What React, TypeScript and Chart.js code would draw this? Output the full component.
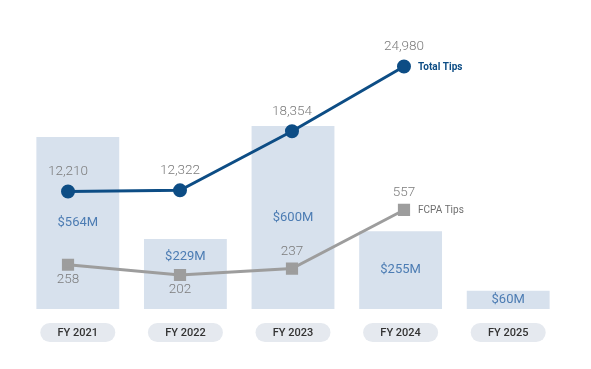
import React, { useEffect, useRef } from 'react';
import { Chart, registerables } from 'chart.js';

Chart.register(...registerables);

const categories = ['FY 2021', 'FY 2022', 'FY 2023', 'FY 2024', 'FY 2025'];
const awardsM = [564, 229, 600, 255, 60];
const totalTips: (number | null)[] = [12210, 12322, 18354, 24980, null];
const fcpaTips: (number | null)[] = [258, 202, 237, 557, null];
const seriesNames = ['Total Tips', 'FCPA Tips'];

// label placement styles
const barLabelAnchor = ['middle', 'upper', 'middle', 'middle', 'middle'];
const fcpaLabelSide = ['below', 'below', 'above', 'above'];

const BAR_COLOR = '#d7e1ed';
const BAR_TEXT = '#4c7cb3';
const TOTAL_COLOR = '#0d4d85';
const FCPA_COLOR = '#9d9d9d';
const NUM_COLOR = '#7c7c7c';

const fmt = (v: number) => v.toLocaleString('en-US');
const toPoints = (arr: (number | null)[]) =>
  arr.map((v, i) => ({ x: i, y: v })).filter((p) => p.y != null);

const labelsPlugin = {
  id: 'customLabels',
  afterDatasetsDraw(chart: any) {
    const ctx = chart.ctx as CanvasRenderingContext2D;
    ctx.save();
    ctx.textAlign = 'center';
    ctx.textBaseline = 'middle';

    // bar labels
    const barMeta = chart.getDatasetMeta(0);
    barMeta.data.forEach((bar: any, i: number) => {
      const p = bar.getProps(['x', 'y', 'base'], true);
      const cy = barLabelAnchor[i] === 'upper' ? p.y + 18 : (p.y + p.base) / 2;
      ctx.fillStyle = BAR_TEXT;
      ctx.font = '400 13px Roboto';
      ctx.fillText(`$${awardsM[i]}M`, p.x, cy);
    });

    // total tips labels
    const totMeta = chart.getDatasetMeta(1);
    let lastTot: any = null;
    totMeta.data.forEach((pt: any, i: number) => {
      const v = totalTips[i];
      if (v == null) return;
      ctx.fillStyle = NUM_COLOR;
      ctx.font = '300 13.5px Roboto';
      ctx.textAlign = 'center';
      ctx.fillText(fmt(v), pt.x, pt.y - 20);
      lastTot = pt;
    });
    if (lastTot) {
      ctx.textAlign = 'left';
      ctx.fillStyle = TOTAL_COLOR;
      ctx.font = '700 10px Roboto';
      ctx.fillText(seriesNames[0], lastTot.x + 14, lastTot.y + 1);
    }

    // fcpa labels
    const fMeta = chart.getDatasetMeta(2);
    let lastF: any = null;
    fMeta.data.forEach((pt: any, i: number) => {
      const v = fcpaTips[i];
      if (v == null) return;
      ctx.fillStyle = NUM_COLOR;
      ctx.font = '300 13.5px Roboto';
      ctx.textAlign = 'center';
      const dy = fcpaLabelSide[i] === 'below' ? 15 : -17;
      ctx.fillText(fmt(v), pt.x, pt.y + dy);
      lastF = pt;
    });
    if (lastF) {
      ctx.textAlign = 'left';
      ctx.fillStyle = '#6e6e6e';
      ctx.font = '400 10px Roboto';
      ctx.fillText(seriesNames[1], lastF.x + 14, lastF.y + 1);
    }

    // category pills
    const xs = chart.scales.x;
    const bottom = chart.chartArea.bottom;
    categories.forEach((c, i) => {
      const cx = xs.getPixelForValue(i);
      const w = 75;
      const h = 19;
      const y = bottom + 14;
      ctx.beginPath();
      (ctx as any).roundRect(cx - w / 2, y, w, h, h / 2);
      ctx.fillStyle = '#e5e9ef';
      ctx.fill();
      ctx.fillStyle = '#333333';
      ctx.font = '500 11px Roboto';
      ctx.textAlign = 'center';
      ctx.fillText(c, cx, y + h / 2 + 0.5);
    });
    ctx.restore();
  },
};

export default function App() {
  const ref = useRef<HTMLCanvasElement | null>(null);
  useEffect(() => {
    if (!ref.current) return;
    const chart = new Chart(ref.current, {
      type: 'line',
      data: {
        labels: categories,
        datasets: [
          {
            type: 'bar',
            label: 'Awards',
            data: awardsM,
            backgroundColor: BAR_COLOR,
            borderWidth: 0,
            categoryPercentage: 1,
            barPercentage: 0.77,
            grouped: false,
            xAxisID: 'x',
            yAxisID: 'y',
            order: 3,
          } as any,
          {
            type: 'line',
            label: seriesNames[0],
            data: toPoints(totalTips),
            borderColor: TOTAL_COLOR,
            backgroundColor: TOTAL_COLOR,
            borderWidth: 3,
            pointRadius: 5.5,
            pointHoverRadius: 5.5,
            pointStyle: 'circle',
            xAxisID: 'xLine',
            yAxisID: 'yTotal',
            order: 1,
          } as any,
          {
            type: 'line',
            label: seriesNames[1],
            data: toPoints(fcpaTips),
            borderColor: FCPA_COLOR,
            backgroundColor: FCPA_COLOR,
            borderWidth: 3,
            pointRadius: 6.5,
            pointHoverRadius: 6.5,
            pointStyle: 'rect',
            xAxisID: 'xLine',
            yAxisID: 'yFcpa',
            order: 2,
          } as any,
        ],
      },
      options: {
        animation: false,
        responsive: true,
        maintainAspectRatio: false,
        layout: { padding: { left: 24, right: 29, top: 20, bottom: 60 } },
        plugins: { legend: { display: false }, tooltip: { enabled: false } },
        scales: {
          x: { type: 'category', display: false, offset: true, grid: { display: false } },
          xLine: { type: 'linear', display: false, offset: false, min: -0.393, max: 4.411 },
          y: { display: false, min: 0, max: 947 },
          yTotal: { display: false, min: 200, max: 29723 },
          yFcpa: { display: false, min: 16.4, max: 1594 },
        },
      },
      plugins: [labelsPlugin],
    });
    return () => chart.destroy();
  }, []);
  return (
    <div style={{ position: 'fixed', left: 0, top: 0, width: 591, height: 369, background: '#fff' }}>
      <canvas ref={ref} />
    </div>
  );
}
